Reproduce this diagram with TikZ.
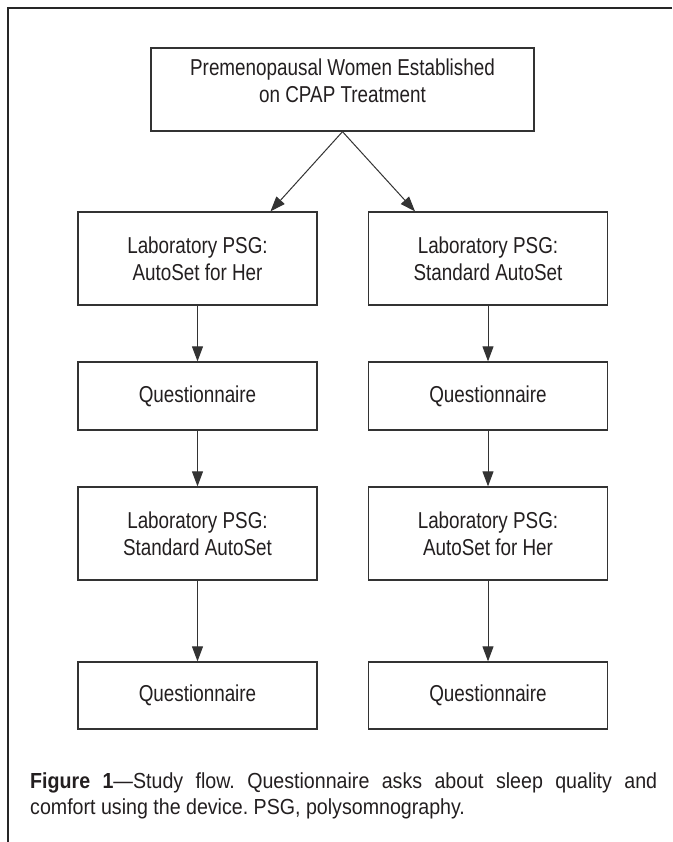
\documentclass[tikz,border=0pt]{standalone}
\usepackage{fontspec}
\setmainfont{Liberation Sans}
\newfontfamily\boxfont[FakeStretch=0.82,Ligatures=TeX]{Liberation Sans}
\newfontfamily\capfont[FakeStretch=0.9,Ligatures=TeX]{Liberation Sans}
\usetikzlibrary{arrows.meta}
\definecolor{ink}{HTML}{231F20}
\definecolor{edge}{HTML}{333333}
\begin{document}
\begin{tikzpicture}[x=1pt,y=-1pt,
  flowbox/.style={draw=edge, line width=1.3pt, minimum width=239pt, align=center,
    inner sep=0pt, text=ink, font=\boxfont\fontsize{23}{27}\selectfont},
  arr/.style={-{Triangle[length=15pt,width=11pt]}, draw=edge, line width=1pt}]
\useasboundingbox (0,0) rectangle (672,842);
\fill[white] (0,0) rectangle (672,842);
% frame
\draw[line width=2pt, black!85] (672,8.5) -- (7.5,8.5) -- (7.5,842);
% boxes
\node[flowbox, minimum width=383pt, minimum height=83pt] (top) at (342.5,89.5)
  {Premenopausal Women Established\\on CPAP Treatment\\[-10pt]\mbox{}};
\node[flowbox, minimum height=93pt] (L1) at (197.5,258.5) {Laboratory PSG:\\AutoSet for Her};
\node[flowbox, minimum height=93pt] (R1) at (488,258.5) {Laboratory PSG:\\Standard AutoSet};
\node[flowbox, minimum height=68pt] (L2) at (197.5,396) {Questionnaire};
\node[flowbox, minimum height=68pt] (R2) at (488,396) {Questionnaire};
\node[flowbox, minimum height=93pt] (L3) at (197.5,533.5) {Laboratory PSG:\\Standard AutoSet};
\node[flowbox, minimum height=93pt] (R3) at (488,533.5) {Laboratory PSG:\\AutoSet for Her};
\node[flowbox, minimum height=67pt] (L4) at (197.5,695.5) {Questionnaire};
\node[flowbox, minimum height=67pt] (R4) at (488,695.5) {Questionnaire};
% arrows
\draw[arr] (top.south) -- ([xshift=73pt]L1.north);
\draw[arr] (top.south) -- ([xshift=-73pt]R1.north);
\draw[arr] (L1.south) -- (L2.north);
\draw[arr] (R1.south) -- (R2.north);
\draw[arr] (L2.south) -- (L3.north);
\draw[arr] (R2.south) -- (R3.north);
\draw[arr] (L3.south) -- (L4.north);
\draw[arr] (R3.south) -- (R4.north);
% caption
\node[anchor=north west, inner sep=0pt, text width=627pt, align=justify, text=ink,
  font=\capfont\fontsize{21.8}{26.5}\selectfont] (cap) at (30,772)
  {\frenchspacing\noindent\textbf{Figure 1}—Study flow. Questionnaire asks about sleep quality and\linebreak comfort using the device. PSG, polysomnography.};
\end{tikzpicture}
\end{document}
